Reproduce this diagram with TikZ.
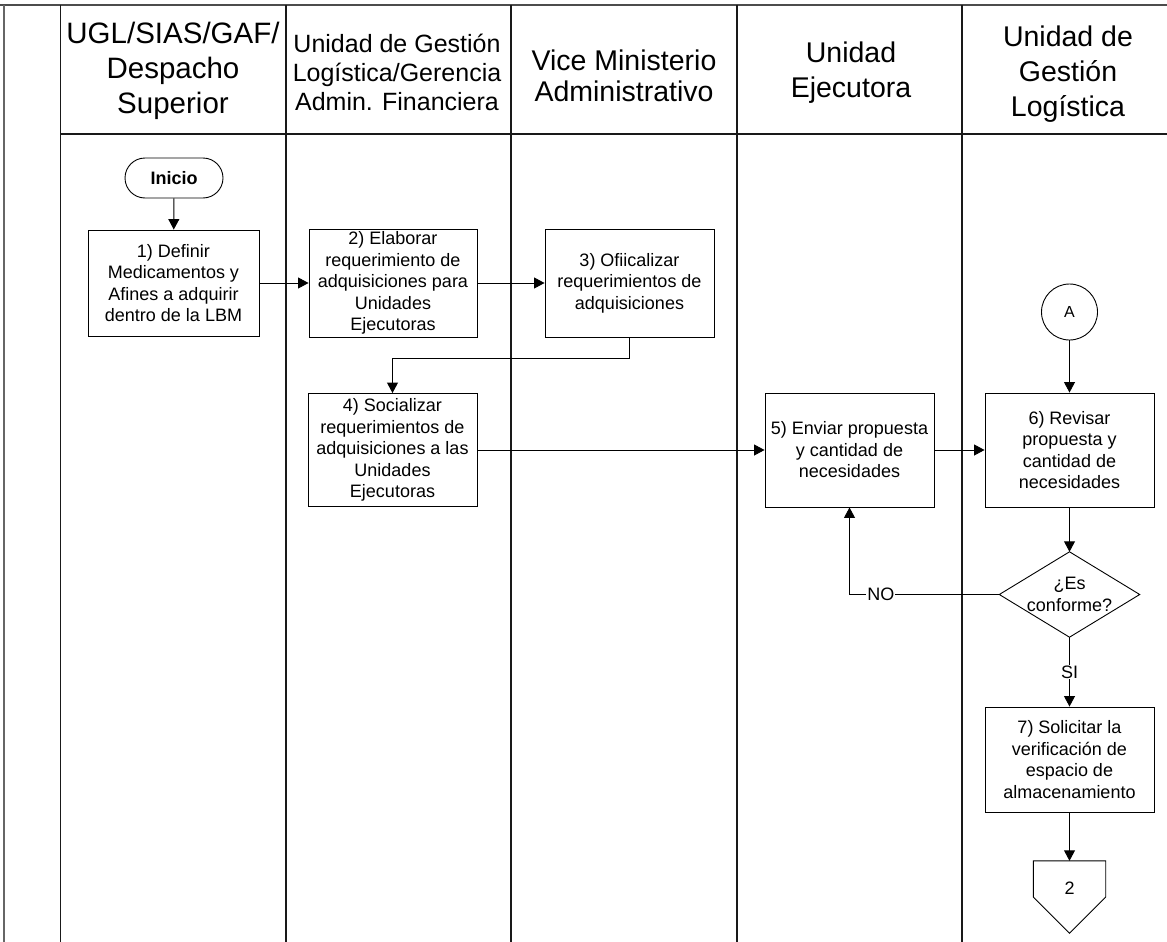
\documentclass[tikz,border=0pt]{standalone}
\usepackage{fontspec}
\setmainfont{Liberation Sans}
\usetikzlibrary{arrows.meta}
\begin{document}
\begin{tikzpicture}[x=1pt,y=-1pt,
  frameline/.style={line width=2pt, draw=black!70},
  laneline/.style={line width=1.3pt, draw=black!90},
  headtxt/.style={align=center, inner sep=0pt},
  proc/.style={draw, line width=0.9pt, align=center, inner sep=0pt,
    font=\fontsize{18}{21.5}\selectfont},
  flow/.style={line width=0.9pt, -{Triangle[length=10.5pt,width=11pt]}},
  lbl/.style={fill=white, inner sep=1pt, font=\fontsize{18}{21.5}\selectfont}
]
\useasboundingbox (0,0) rectangle (1167,942);

% swimlane frame
\draw[frameline] (0,5) -- (1167,5);
\draw[line width=1.5pt, draw=black!60] (4,5) -- (4,942);
\foreach \lx in {60.5,286,511,737,962}
  \draw[laneline] (\lx,5) -- (\lx,942);
\draw[laneline] (60.5,134) -- (1167,134);

% lane headers
\node[headtxt, font=\fontsize{29.5}{35}\selectfont] (h1) at (173,71) {UGL/SIAS/GAF/\\Despacho\\Superior};
\node[headtxt, font=\fontsize{25}{29}\selectfont] (h2) at (397,72) {Unidad de Gestión\\Logística/Gerencia\\Admin. Financiera};
\node[headtxt, font=\fontsize{28.5}{31}\selectfont] (h3) at (624,76) {Vice Ministerio\\Administrativo};
\node[headtxt, font=\fontsize{28.5}{35}\selectfont] (h4) at (851,73) {Unidad\\Ejecutora};
\node[headtxt, font=\fontsize{28.5}{35}\selectfont] (h5) at (1068,74) {Unidad de\\Gestión\\Logística};

% start terminator
\node[draw, line width=0.9pt, rounded corners=20pt, minimum width=98pt, minimum height=40pt,
  inner sep=0pt, font=\fontsize{18}{21.5}\selectfont\bfseries] (ini) at (174,178) {Inicio};

% process steps
\node[proc, minimum width=171pt, minimum height=106pt] (b1) at (173.5,283)
  {1) Definir\\Medicamentos y\\Afines a adquirir\\dentro de la LBM};
\node[proc, minimum width=168pt, minimum height=108pt] (b2) at (393,283)
  {2) Elaborar\\requerimiento de\\adquisiciones para\\Unidades\\Ejecutoras};
\node[proc, minimum width=169pt, minimum height=108pt] (b3) at (629.5,283)
  {3) Ofiicalizar\\requerimientos de\\adquisiciones};
\node[proc, minimum width=169pt, minimum height=113pt] (b4) at (392.5,450)
  {4) Socializar\\requerimientos de\\adquisiciones a las\\Unidades\\Ejecutoras};
\node[proc, minimum width=169pt, minimum height=114pt] (b5) at (849.5,450)
  {5) Enviar propuesta\\y cantidad de\\necesidades};
\node[proc, minimum width=169pt, minimum height=114pt] (b6) at (1069.5,450)
  {6) Revisar\\propuesta y\\cantidad de\\necesidades};
\node[proc, minimum width=169pt, minimum height=105pt] (b7) at (1069.5,759.5)
  {7) Solicitar la\\verificación de\\espacio de\\almacenamiento};

% on-page connector
\node[draw, circle, line width=0.9pt, minimum size=56pt, inner sep=0pt,
  font=\fontsize{16}{19}\selectfont] (conA) at (1069.5,312) {A};

% decision
\node[minimum width=140pt, minimum height=85pt, inner sep=0pt, align=center,
  font=\fontsize{18}{21.5}\selectfont] (dec) at (1069.5,594.5) {¿Es\\conforme?};
\draw[line width=0.9pt] (dec.north) -- (dec.east) -- (dec.south) -- (dec.west) -- cycle;

% off-page connector
\node[minimum width=72pt, minimum height=72pt, inner sep=0pt] (off) at (1069.5,897) {};
\draw[line width=0.9pt] (off.north west) -- (off.north east) -- (off.east) -- (off.south) -- (off.west) -- cycle;
\node[font=\fontsize{18}{21.5}\selectfont, inner sep=0pt] (offnum) at (1069.5,888) {2};

% connectors
\draw[flow] (ini) -- (b1);
\draw[flow] (b1) -- (b2);
\draw[flow] (b2) -- (b3);
\draw[flow] (b3.south) -- ++(0,21) -| (b4.north);
\draw[flow] (b4) -- (b5);
\draw[flow] (b5) -- (b6);
\draw[flow] (conA) -- (b6);
\draw[flow] (b6) -- (dec.north);
\draw[flow] (dec.west) -- node[lbl, pos=0.79] {NO} (dec.west -| b5.south) -- (b5.south);
\draw[flow] (dec.south) -- node[lbl] {SI} (b7.north);
\draw[flow] (b7) -- (off.north);
\end{tikzpicture}
\end{document}
